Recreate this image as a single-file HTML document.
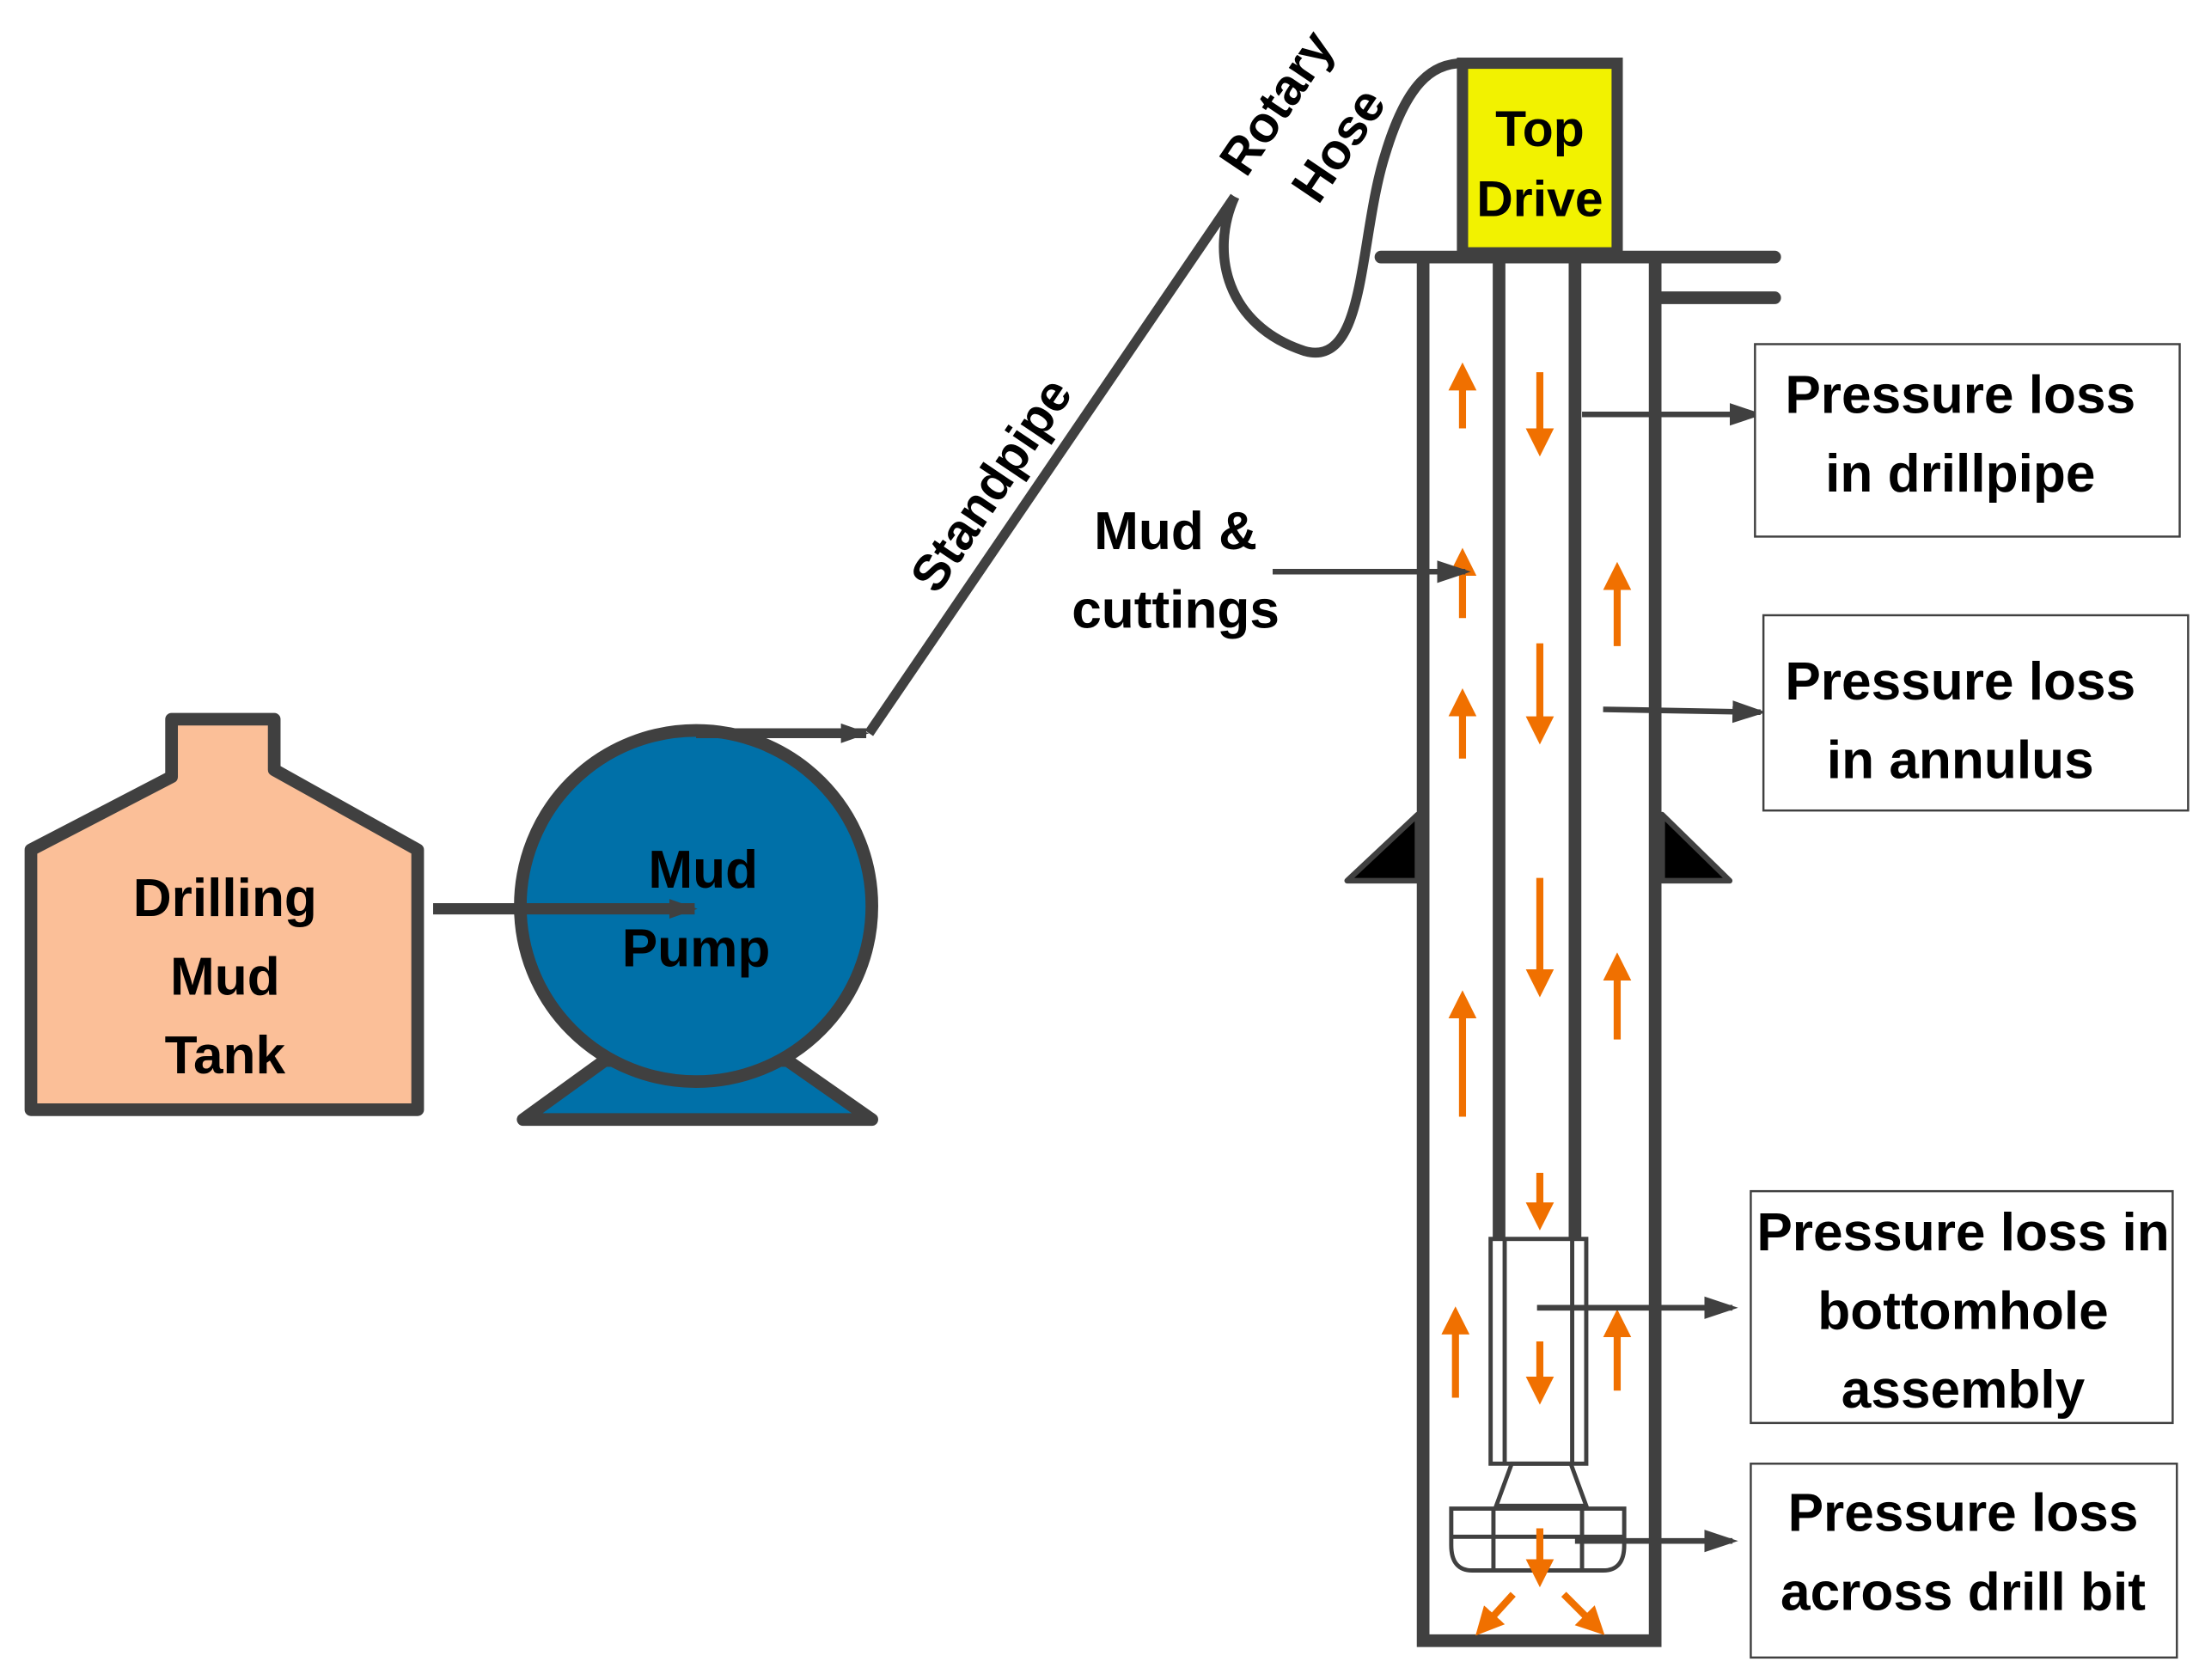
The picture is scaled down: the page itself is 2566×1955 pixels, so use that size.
<!DOCTYPE html>
<html><head><meta charset="utf-8"><style>
html,body{margin:0;padding:0;background:#fff;}
svg{display:block;}
text{font-family:"Liberation Sans",sans-serif;font-weight:bold;fill:#000;}
</style></head><body>
<svg width="2566" height="1955" viewBox="0 0 1568 1196" preserveAspectRatio="none" xmlns="http://www.w3.org/2000/svg">
<defs>
<marker id="ah" markerWidth="24" markerHeight="24" refX="20" refY="12" orient="auto" markerUnits="userSpaceOnUse"><path d="M2,5 L22,12 L2,19 z" fill="#404040"/></marker>
<marker id="ahs" markerWidth="24" markerHeight="24" refX="20" refY="12" orient="auto" markerUnits="userSpaceOnUse"><path d="M0,4 L24,12 L0,20 z" fill="#404040"/></marker>
<marker id="oa" markerWidth="4" markerHeight="4" refX="2" refY="2" orient="auto" markerUnits="strokeWidth"><path d="M0,0 L4,2 L0,4 z" fill="#f07000"/></marker>
</defs>
<rect width="1568" height="1196" fill="#fff"/>
<!-- Tank -->
<polygon points="22,605 122,553 122,512 195,512 195,548 297,605 297,790 22,790" fill="#fbbf98" stroke="#404040" stroke-width="9" stroke-linejoin="round"/>
<text x="160" y="652" font-size="38" text-anchor="middle">Drilling</text>
<text x="160" y="708" font-size="38" text-anchor="middle">Mud</text>
<text x="160" y="764" font-size="38" text-anchor="middle">Tank</text>
<!-- Pump -->
<polygon points="372,797 620,797 560,755 430,755" fill="#0070a8" stroke="#404040" stroke-width="9" stroke-linejoin="round"/>
<circle cx="495" cy="645" r="125" fill="#0070a8" stroke="#404040" stroke-width="9"/>
<text x="500" y="632" font-size="38" text-anchor="middle">Mud</text>
<text x="495" y="688" font-size="38" text-anchor="middle">Pump</text>
<line x1="308" y1="647" x2="494" y2="647" stroke="#404040" stroke-width="8" marker-end="url(#ah)"/>
<!-- standpipe -->
<line x1="495" y1="522" x2="616" y2="522" stroke="#404040" stroke-width="7" marker-end="url(#ah)"/>
<line x1="618" y1="522" x2="878" y2="140" stroke="#404040" stroke-width="7"/>
<text x="0" y="0" font-size="36" text-anchor="middle" transform="translate(715,352) rotate(-56)">Standpipe</text>
<path d="M878,140 C860,180 872,232 928,250 C972,262 966,170 985,110 C1000,60 1018,45 1040,45" fill="none" stroke="#404040" stroke-width="7"/>
<text x="0" y="0" font-size="36" text-anchor="middle" transform="translate(918,80) rotate(-56)">Rotary</text>
<text x="0" y="0" font-size="36" text-anchor="middle" transform="translate(962,110) rotate(-56)">Hose</text>
<!-- top drive -->
<rect x="1040" y="45" width="110" height="135" fill="#f2f200" stroke="#404040" stroke-width="8"/>
<text x="1095" y="104" font-size="36" text-anchor="middle">Top</text>
<text x="1095" y="154" font-size="36" text-anchor="middle">Drive</text>
<line x1="982" y1="183" x2="1262" y2="183" stroke="#404040" stroke-width="9" stroke-linecap="round"/>
<line x1="1180" y1="212" x2="1262" y2="212" stroke="#404040" stroke-width="9" stroke-linecap="round"/>
<!-- wellbore -->
<polyline points="1012,183 1012,1168 1177,1168 1177,183" fill="none" stroke="#404040" stroke-width="9"/>
<line x1="1066" y1="183" x2="1066" y2="882" stroke="#404040" stroke-width="9"/>
<line x1="1120" y1="183" x2="1120" y2="882" stroke="#404040" stroke-width="9"/>
<polygon points="958,627 1008,627 1008,580" fill="#000" stroke="#404040" stroke-width="4" stroke-linejoin="round"/>
<polygon points="1182,580 1182,627 1230,627" fill="#000" stroke="#404040" stroke-width="4" stroke-linejoin="round"/>
<!-- BHA & bit -->
<g fill="none" stroke="#404040" stroke-width="3">
<rect x="1060" y="882" width="68" height="160"/>
<line x1="1070" y1="882" x2="1070" y2="1042"/>
<line x1="1118" y1="882" x2="1118" y2="1042"/>
<polygon points="1075,1042 1117,1042 1128,1072 1064,1072"/>
<path d="M1032,1074 H1155 V1100 Q1155,1118 1140,1118 H1047 Q1032,1118 1032,1100 Z"/>
<line x1="1032" y1="1094" x2="1155" y2="1094"/>
<line x1="1062" y1="1074" x2="1062" y2="1118"/>
<line x1="1125" y1="1074" x2="1125" y2="1118"/>
</g>
<!-- orange arrows -->
<g stroke="#f07000" stroke-width="5" marker-end="url(#oa)">
<line x1="1040" y1="305" x2="1040" y2="268"/>
<line x1="1040" y1="440" x2="1040" y2="400"/>
<line x1="1040" y1="540" x2="1040" y2="500"/>
<line x1="1040" y1="795" x2="1040" y2="715"/>
<line x1="1035" y1="995" x2="1035" y2="940"/>
<line x1="1150" y1="460" x2="1150" y2="410"/>
<line x1="1150" y1="740" x2="1150" y2="688"/>
<line x1="1150" y1="990" x2="1150" y2="942"/>
<line x1="1095" y1="265" x2="1095" y2="315"/>
<line x1="1095" y1="458" x2="1095" y2="520"/>
<line x1="1095" y1="625" x2="1095" y2="700"/>
<line x1="1095" y1="835" x2="1095" y2="866"/>
<line x1="1095" y1="955" x2="1095" y2="990"/>
<line x1="1095" y1="1088" x2="1095" y2="1120"/>
<line x1="1076" y1="1135" x2="1056" y2="1157"/>
<line x1="1112" y1="1135" x2="1134" y2="1157"/>
</g>
<!-- label arrows -->
<g stroke="#404040" stroke-width="4" marker-end="url(#ahs)">
<line x1="1125" y1="295" x2="1250" y2="295"/>
<line x1="905" y1="407" x2="1042" y2="407"/>
<line x1="1140" y1="505" x2="1252" y2="507"/>
<line x1="1093" y1="931" x2="1232" y2="931"/>
<line x1="1120" y1="1097" x2="1232" y2="1097"/>
</g>
<text x="836" y="391" font-size="38" text-anchor="middle">Mud &amp;</text>
<text x="836" y="447" font-size="38" text-anchor="middle">cuttings</text>
<!-- boxes -->
<g fill="#fff" stroke="#404040" stroke-width="1.5">
<rect x="1248" y="245" width="302" height="137"/>
<rect x="1254" y="438" width="302" height="139"/>
<rect x="1245" y="848" width="300" height="165"/>
<rect x="1245" y="1042" width="303" height="138"/>
</g>
<g font-size="38" text-anchor="middle">
<text x="1394" y="294">Pressure loss</text>
<text x="1394" y="350">in drillpipe</text>
<text x="1394" y="498">Pressure loss</text>
<text x="1394" y="554">in annulus</text>
<text x="1396" y="890">Pressure loss in</text>
<text x="1396" y="946">bottomhole</text>
<text x="1396" y="1002">assembly</text>
<text x="1396" y="1090">Pressure loss</text>
<text x="1396" y="1146">across drill bit</text>
</g>
</svg>
</body></html>
